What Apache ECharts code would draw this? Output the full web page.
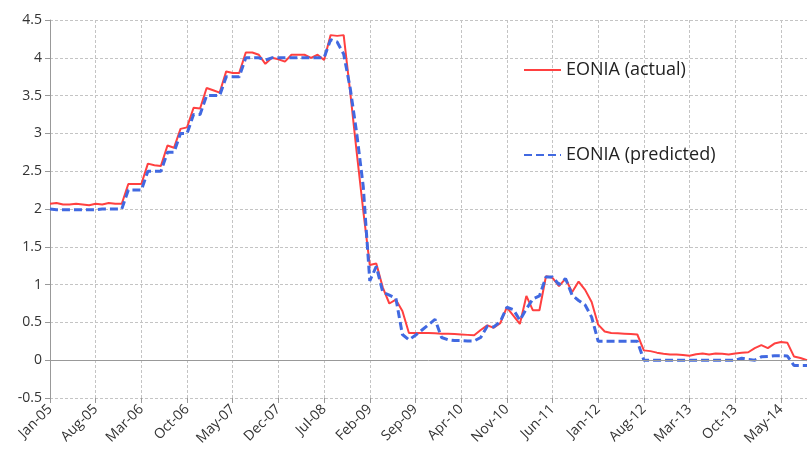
<!DOCTYPE html>
<html>
<head>
<meta charset="utf-8">
<script src="https://cdn.jsdelivr.net/npm/echarts@6/dist/echarts.min.js"></script>
<style>
  html, body { margin: 0; padding: 0; background: #fff; }
  #myecharts { width: 808px; height: 455px; }
</style>
</head>
<body>
<div id="myecharts"></div>
<script>
// monthly categories, Jan-05 .. Sep-14
var categories = [
  'Jan-05','Feb-05','Mar-05','Apr-05','May-05','Jun-05','Jul-05','Aug-05','Sep-05','Oct-05','Nov-05','Dec-05',
  'Jan-06','Feb-06','Mar-06','Apr-06','May-06','Jun-06','Jul-06','Aug-06','Sep-06','Oct-06','Nov-06','Dec-06',
  'Jan-07','Feb-07','Mar-07','Apr-07','May-07','Jun-07','Jul-07','Aug-07','Sep-07','Oct-07','Nov-07','Dec-07',
  'Jan-08','Feb-08','Mar-08','Apr-08','May-08','Jun-08','Jul-08','Aug-08','Sep-08','Oct-08','Nov-08','Dec-08',
  'Jan-09','Feb-09','Mar-09','Apr-09','May-09','Jun-09','Jul-09','Aug-09','Sep-09','Oct-09','Nov-09','Dec-09',
  'Jan-10','Feb-10','Mar-10','Apr-10','May-10','Jun-10','Jul-10','Aug-10','Sep-10','Oct-10','Nov-10','Dec-10',
  'Jan-11','Feb-11','Mar-11','Apr-11','May-11','Jun-11','Jul-11','Aug-11','Sep-11','Oct-11','Nov-11','Dec-11',
  'Jan-12','Feb-12','Mar-12','Apr-12','May-12','Jun-12','Jul-12','Aug-12','Sep-12','Oct-12','Nov-12','Dec-12',
  'Jan-13','Feb-13','Mar-13','Apr-13','May-13','Jun-13','Jul-13','Aug-13','Sep-13','Oct-13','Nov-13','Dec-13',
  'Jan-14','Feb-14','Mar-14','Apr-14','May-14','Jun-14','Jul-14','Aug-14','Sep-14'
];

var eoniaActual = [
  2.07, 2.08, 2.06, 2.06, 2.07, 2.06, 2.05, 2.07, 2.06, 2.08, 2.07, 2.07,
  2.33, 2.33, 2.33, 2.60, 2.58, 2.57, 2.84, 2.81, 3.06, 3.08, 3.34, 3.33,
  3.60, 3.57, 3.54, 3.82, 3.80, 3.80, 4.07, 4.07, 4.04, 3.92, 4.00, 3.98,
  3.95, 4.04, 4.04, 4.04, 4.00, 4.04, 3.97, 4.30, 4.29, 4.30, 3.55, 2.75,
  1.98, 1.26, 1.28, 0.96, 0.75, 0.80, 0.65, 0.36, 0.36, 0.36, 0.36, 0.355,
  0.35, 0.35, 0.345, 0.34, 0.335, 0.33, 0.40, 0.46, 0.43, 0.49, 0.70, 0.59,
  0.48, 0.85, 0.66, 0.66, 1.11, 1.09, 0.98, 1.08, 0.90, 1.04, 0.93, 0.77,
  0.47, 0.38, 0.36, 0.355, 0.35, 0.345, 0.34, 0.13, 0.12, 0.10, 0.085, 0.075,
  0.075, 0.07, 0.06, 0.08, 0.09, 0.075, 0.09, 0.085, 0.075, 0.09, 0.10, 0.105,
  0.16, 0.20, 0.16, 0.22, 0.24, 0.23, 0.05, 0.03, 0.0
];

var eoniaPredicted = [
  2.00, 1.99, 1.99, 1.99, 1.99, 1.99, 1.99, 1.99, 2.00, 2.00, 2.00, 2.00,
  2.25, 2.25, 2.25, 2.50, 2.50, 2.50, 2.75, 2.75, 3.00, 3.00, 3.25, 3.25,
  3.50, 3.50, 3.50, 3.75, 3.75, 3.75, 4.00, 4.00, 4.00, 3.97, 4.00, 4.00,
  4.00, 4.00, 4.00, 4.00, 4.00, 4.00, 4.00, 4.24, 4.21, 4.05, 3.60, 3.00,
  2.30, 1.05, 1.24, 0.90, 0.86, 0.82, 0.34, 0.27, 0.33, 0.40, 0.47, 0.54,
  0.30, 0.27, 0.26, 0.26, 0.255, 0.255, 0.30, 0.45, 0.44, 0.51, 0.70, 0.67,
  0.53, 0.68, 0.81, 0.85, 1.10, 1.10, 1.00, 1.08, 0.86, 0.79, 0.73, 0.57,
  0.25, 0.25, 0.25, 0.25, 0.25, 0.25, 0.25, 0.00, 0.00, 0.00, 0.00, 0.00,
  0.00, 0.00, 0.00, 0.00, 0.00, 0.00, 0.00, 0.00, 0.00, 0.00, 0.025, 0.01,
  0.00, 0.045, 0.05, 0.06, 0.06, 0.055, -0.07, -0.07, -0.07
];

var seriesNames = ['EONIA (actual)', 'EONIA (predicted)'];

var gridLine = { color: '#c4c4c4', type: [3, 2], width: 1 };

var myChart = echarts.init(document.getElementById('myecharts'));
var option = {
  animation: false,
  backgroundColor: '#ffffff',
  textStyle: { fontFamily: 'Open Sans' },
  grid: { left: 50, top: 20, right: 1, bottom: 57 },
  legend: {
    data: seriesNames,
    orient: 'vertical',
    left: 518,
    top: 55,
    padding: 5,
    itemWidth: 37,
    itemHeight: 16,
    itemGap: 65,
    itemStyle: { opacity: 0 },
    textStyle: { fontSize: 18, lineHeight: 20, color: '#222' }
  },
  xAxis: {
    type: 'category',
    data: categories,
    boundaryGap: false,
    axisLine: { show: false, onZero: false },
    axisTick: { show: true, interval: 6, length: 5, lineStyle: { color: '#999' } },
    axisLabel: { interval: 6, rotate: 45, fontSize: 14, color: '#333', margin: 9 },
    splitLine: { show: true, interval: 6, lineStyle: gridLine }
  },
  yAxis: {
    type: 'value',
    min: -0.5,
    max: 4.5,
    interval: 0.5,
    axisLine: { show: true, lineStyle: { color: '#999' } },
    axisTick: { show: true, length: 5, lineStyle: { color: '#999' } },
    axisLabel: { fontSize: 14, color: '#333', margin: 8 },
    splitLine: { show: true, lineStyle: gridLine }
  },
  series: [
    {
      name: seriesNames[0],
      type: 'line',
      data: eoniaActual,
      symbol: 'none',
      lineStyle: { color: '#ff4040', width: 2 },
      itemStyle: { color: '#ff4040' },
      markLine: {
        silent: true,
        symbol: 'none',
        label: { show: false },
        lineStyle: { color: '#999', type: 'solid', width: 1 },
        data: [{ yAxis: 0 }]
      }
    },
    {
      name: seriesNames[1],
      type: 'line',
      data: eoniaPredicted,
      symbol: 'none',
      lineStyle: { color: '#4169e1', width: 3, type: [8, 4] },
      itemStyle: { color: '#4169e1' }
    }
  ]
};
myChart.setOption(option);
</script>
</body>
</html>
